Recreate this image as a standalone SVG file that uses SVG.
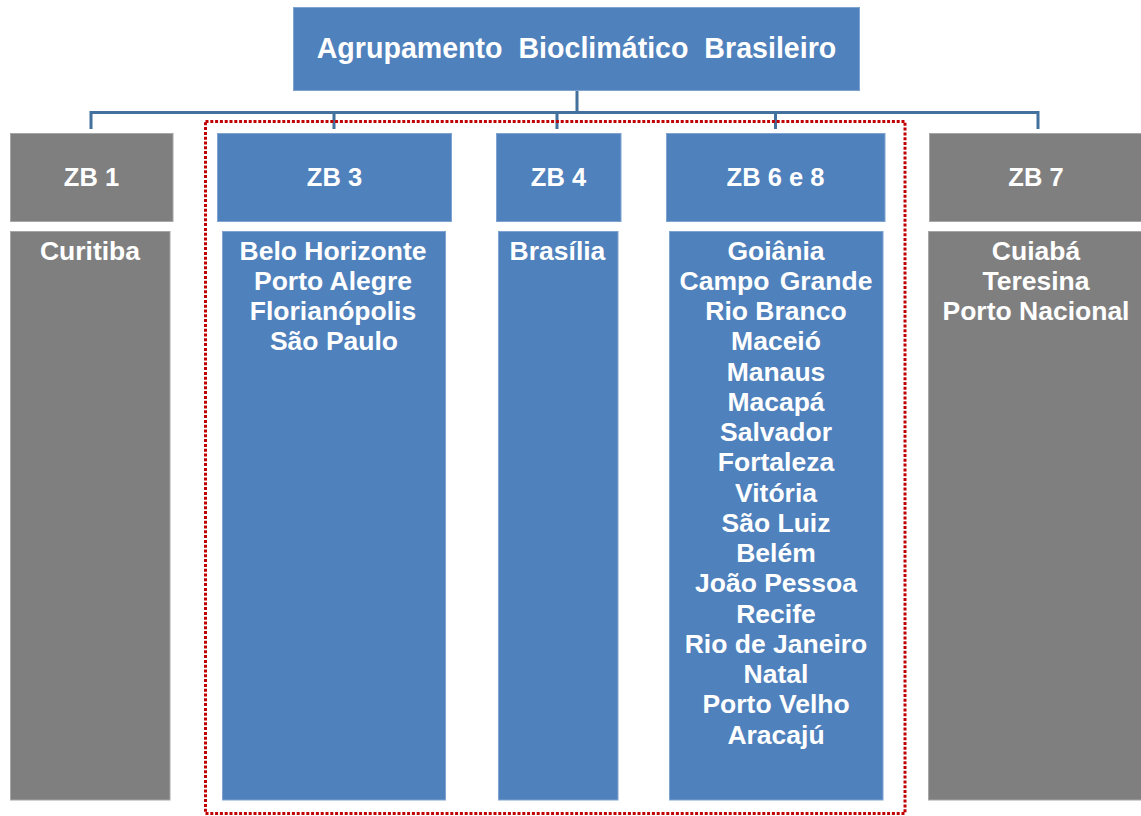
<svg xmlns="http://www.w3.org/2000/svg" width="1141" height="816" viewBox="0 0 1141 816">
<style>
.blue{fill:#4F81BD;stroke:#7FA3D0;stroke-width:1}
.grey{fill:#7F7F7F;stroke:#A6A6A6;stroke-width:1}
.t{font-family:"Liberation Sans",Arial,sans-serif;font-weight:bold;fill:#FFFFFF;text-anchor:middle}
.title{font-size:28.6px;white-space:pre}
.hd{font-size:25.5px}
.ct{font-size:26.5px}
.conn{fill:none;stroke:#41719C;stroke-width:3}
.dot{fill:none;stroke:#C00000;stroke-width:3;stroke-dasharray:3 1.8}
</style>
<rect width="1141" height="816" fill="#FFFFFF"/>
<g id="connectors">
<path class="conn" d="M577 90V112.5M91 129V112.5H1038V129M334 112.5V129M557 112.5V129M775.5 112.5V129"/>
</g>
<rect id="highlight" class="dot" x="205.5" y="121.5" width="699.5" height="692"/>
<g id="root">
<rect class="blue" x="293.5" y="7.5" width="566" height="83"/>
<text class="t title" x="576.5" y="57.5" xml:space="preserve">Agrupamento  Bioclimático  Brasileiro</text>
</g>
<g id="zb1">
<rect class="grey" x="10.5" y="133.5" width="162.5" height="88"/>
<text class="t hd" x="91.5" y="186">ZB 1</text>
<rect class="grey" x="10.5" y="231.5" width="159.5" height="568.5"/>
<text class="t ct" x="90" y="259.5">Curitiba</text>
</g>
<g id="zb3">
<rect class="blue" x="217.5" y="133.5" width="234" height="88"/>
<text class="t hd" x="334.5" y="186">ZB 3</text>
<rect class="blue" x="222.5" y="231.5" width="223" height="568.5"/>
<text class="t ct" x="333" y="259.5">Belo Horizonte</text>
<text class="t ct" x="333" y="289.75">Porto Alegre</text>
<text class="t ct" x="333" y="320">Florianópolis</text>
<text class="t ct" x="334" y="350.25">São Paulo</text>
</g>
<g id="zb4">
<rect class="blue" x="496.5" y="133.5" width="124.5" height="88"/>
<text class="t hd" x="558.5" y="186">ZB 4</text>
<rect class="blue" x="498.5" y="231.5" width="119.5" height="568.5"/>
<text class="t ct" x="557.5" y="259.5">Brasília</text>
</g>
<g id="zb68">
<rect class="blue" x="666.5" y="133.5" width="218.5" height="88"/>
<text class="t hd" x="775.5" y="186">ZB 6 e 8</text>
<rect class="blue" x="669.5" y="231.5" width="213.5" height="568.5"/>
<text class="t ct" x="776" y="259.5">Goiânia</text>
<text class="t ct" x="776" y="289.75" style="word-spacing:3px">Campo Grande</text>
<text class="t ct" x="776" y="320">Rio Branco</text>
<text class="t ct" x="776" y="350.25">Maceió</text>
<text class="t ct" x="776" y="380.5">Manaus</text>
<text class="t ct" x="776" y="410.75">Macapá</text>
<text class="t ct" x="776" y="441">Salvador</text>
<text class="t ct" x="776" y="471.25">Fortaleza</text>
<text class="t ct" x="776" y="501.5">Vitória</text>
<text class="t ct" x="776" y="531.75">São Luiz</text>
<text class="t ct" x="776" y="562">Belém</text>
<text class="t ct" x="776" y="592.25">João Pessoa</text>
<text class="t ct" x="776" y="622.5">Recife</text>
<text class="t ct" x="776" y="652.75">Rio de Janeiro</text>
<text class="t ct" x="776" y="683">Natal</text>
<text class="t ct" x="776" y="713.25">Porto Velho</text>
<text class="t ct" x="776" y="743.5">Aracajú</text>
</g>
<g id="zb7">
<rect class="grey" x="929.5" y="133.5" width="212" height="88"/>
<text class="t hd" x="1036" y="186">ZB 7</text>
<rect class="grey" x="928.5" y="231.5" width="213" height="568.5"/>
<text class="t ct" x="1036" y="259.5">Cuiabá</text>
<text class="t ct" x="1036" y="289.75">Teresina</text>
<text class="t ct" x="1036" y="320">Porto Nacional</text>
</g>
</svg>
